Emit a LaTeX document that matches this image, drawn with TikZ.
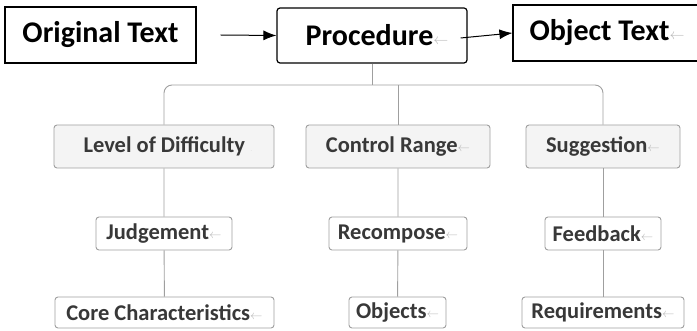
\documentclass[tikz,border=0pt]{standalone}
\usepackage{graphicx}
\usepackage{fontspec}
\setmainfont{Carlito}
\usetikzlibrary{arrows.meta}
\newcommand{\pmark}{\textcolor{gray!55}{\raisebox{1pt}{\scalebox{0.6}{$\leftarrow$}}}}
\begin{document}
\begin{tikzpicture}[x=1pt,y=-1pt,
    topbox/.style={draw,line width=1.2pt,inner sep=0pt,
      font=\bfseries\fontsize{30}{34}\selectfont},
    subbox/.style={draw=gray!75,fill=gray!9,line width=0.9pt,rounded corners=3pt,
      inner sep=0pt,text=black!78,font=\bfseries\fontsize{22.5}{26}\selectfont},
    link/.style={gray!75,line width=0.9pt},
    flow/.style={-{Latex[length=13pt,width=10pt]},line width=1pt}]
    \useasboundingbox (0,0) rectangle (697,331);
    % top row
    \node[topbox,minimum width=191pt,minimum height=56pt] (orig) at (100.5,35) {Original Text};
    \node[topbox,rounded corners=3pt,minimum width=190pt,minimum height=55pt] (proc) at (372,35.5) {\hspace{10pt}Procedure\pmark};
    \node[topbox,minimum width=186pt,minimum height=56pt] (objt) at (606,33) {\hspace{2pt}Object Text\pmark};
    \draw[flow] ([xshift=24pt]orig.east) -- (proc.west);
    \draw[flow] ([xshift=-7pt,yshift=-2.5pt]proc.east) -- (objt.west);
    % second row
    \node[subbox,minimum width=220pt,minimum height=43pt] (lev) at (164,146.5) {\hspace{8pt}Level of Difficulty \textcolor{gray!60}{\tiny$\cdot$}};
    \node[subbox,minimum width=184pt,minimum height=43pt] (ctl) at (398,146.5) {Control Range\pmark};
    \node[subbox,minimum width=154pt,minimum height=43pt] (sug) at (603,146.5) {Suggestion\pmark};
    % third row
    \node[subbox,fill=white,minimum width=136pt,minimum height=33pt] (jud) at (164,233.5) {Judgement\pmark};
    \node[subbox,fill=white,minimum width=138pt,minimum height=33pt] (rec) at (398,233.5) {Recompose\pmark};
    \node[subbox,fill=white,minimum width=116pt,minimum height=33pt] (fee) at (603,233.5) {Feedback\pmark};
    % bottom row
    \node[subbox,fill=white,minimum width=219pt,minimum height=31pt] (core) at (164.5,312.5) {Core Characteristics\pmark};
    \node[subbox,fill=white,minimum width=97pt,minimum height=31pt] (objs) at (397.5,312.5) {Objects\pmark};
    \node[subbox,fill=white,minimum width=162pt,minimum height=31pt] (req) at (603,312.5) {Requirements\pmark};
    % tree links
    \coordinate (bus) at (proc.south |- 0,85);
    \draw[link] (proc.south) -- (bus);
    \draw[link,rounded corners=8pt] (lev.north) |- (bus) -| (sug.north);
    \draw[link] (ctl.north) -- (ctl.north |- bus);
    \draw[link] (lev) -- (jud) -- (core);
    \draw[link] (ctl) -- (rec) -- (objs);
    \draw[link] (sug) -- (fee) -- (req);
\end{tikzpicture}
\end{document}
